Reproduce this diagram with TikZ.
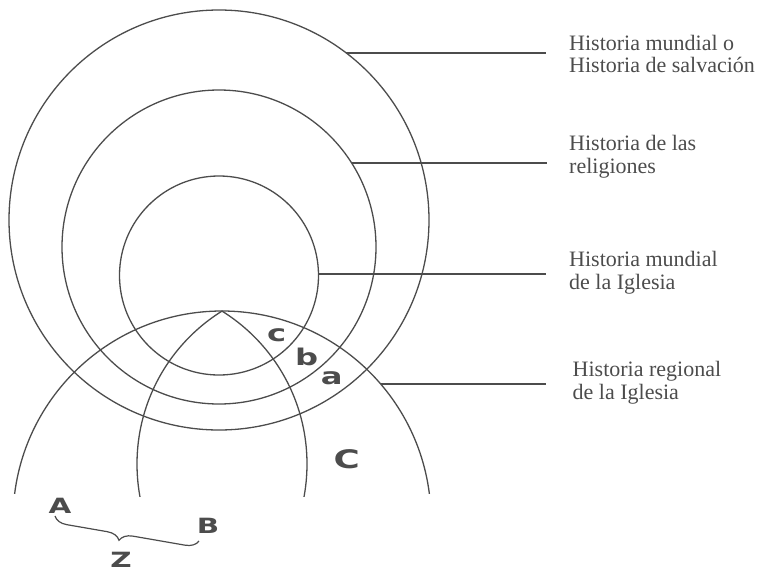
\documentclass[tikz,border=0pt]{standalone}
\usepackage{fontspec}
\setmainfont{Liberation Serif}
\newfontfamily\letterfont{DejaVu Sans}[FakeStretch=1.4]
\usetikzlibrary{decorations.pathreplacing}
\colorlet{ink}{black!70}

\begin{document}
\begin{tikzpicture}[x=1pt, y=-1pt,
  ring/.style={draw=ink, line width=1.3pt},
  leader/.style={draw=ink, line width=1.2pt},
  caption/.style={anchor=base west, inner sep=0pt, align=left, text=ink,
    font=\fontsize{22}{22.7}\selectfont},
  capletter/.style={anchor=base, inner sep=0pt, text=ink,
    font=\letterfont\bfseries\fontsize{21}{21}\selectfont},
  smallletter/.style={anchor=base, inner sep=0pt, text=ink,
    font=\letterfont\bfseries\fontsize{23}{23}\selectfont}
]
\useasboundingbox (0,0) rectangle (758,571);

% concentric circles
\coordinate (world) at (219,220);
\coordinate (religions) at (219,247);
\coordinate (church) at (219,275.5);
\draw[ring] (world) circle (210);
\draw[ring] (religions) circle (157);
\draw[ring] (church) circle (99.5);

% regional history
\coordinate (region) at (222,520);
\begin{scope}
  \clip (0,0) rectangle (758,493.5);
  \draw[ring] (region) circle (209);
\end{scope}
\begin{scope}
  \clip (0,0) rectangle (222,496);
  \draw[ring] (317,464) circle (180);
\end{scope}
\begin{scope}
  \clip (222,0) rectangle (758,496);
  \draw[ring] (127,464) circle (180);
\end{scope}

% labels on the right (base = last line)
\node[caption] (t1) at (569,72.7) {Historia mundial o\\Historia de salvación};
\node[caption] (t2) at (569,173.3) {Historia de las\\religiones};
\node[caption] (t3) at (569,289.3) {Historia mundial\\de la Iglesia};
\node[caption] (t4) at (572.5,399.3) {Historia regional\\de la Iglesia};

\coordinate (p1) at (346.3,53);   \coordinate (q1) at (546,53);
\coordinate (p2) at (351.6,163);  \coordinate (q2) at (546.5,163);
\coordinate (p3) at (318.5,274);  \coordinate (q3) at (546,274);
\coordinate (p4) at (380.7,384);  \coordinate (q4) at (546,384);
\foreach \k in {1,...,4}
  \draw[leader] (p\k) -- (q\k);

% letters
\node[smallletter] (c) at (276.7,341) {c};
\node[smallletter] (b) at (306.7,365) {b};
\node[smallletter] (a) at (331.7,384) {a};
\node[capletter, font=\letterfont\bfseries\fontsize{25.5}{25.5}\selectfont] (C) at (346.7,468.3) {C};
\node[capletter] (A) at (60,513) {A};
\node[capletter] (B) at (208,533) {B};
\node[capletter] (Z) at (121,567) {Z};

\coordinate (bl) at (55,516);
\coordinate (br) at (199,541);
\draw[ink, line width=1.2pt, decorate,
  decoration={brace, mirror, amplitude=13pt, aspect=0.46}] (bl) -- (br);
\end{tikzpicture}
\end{document}
